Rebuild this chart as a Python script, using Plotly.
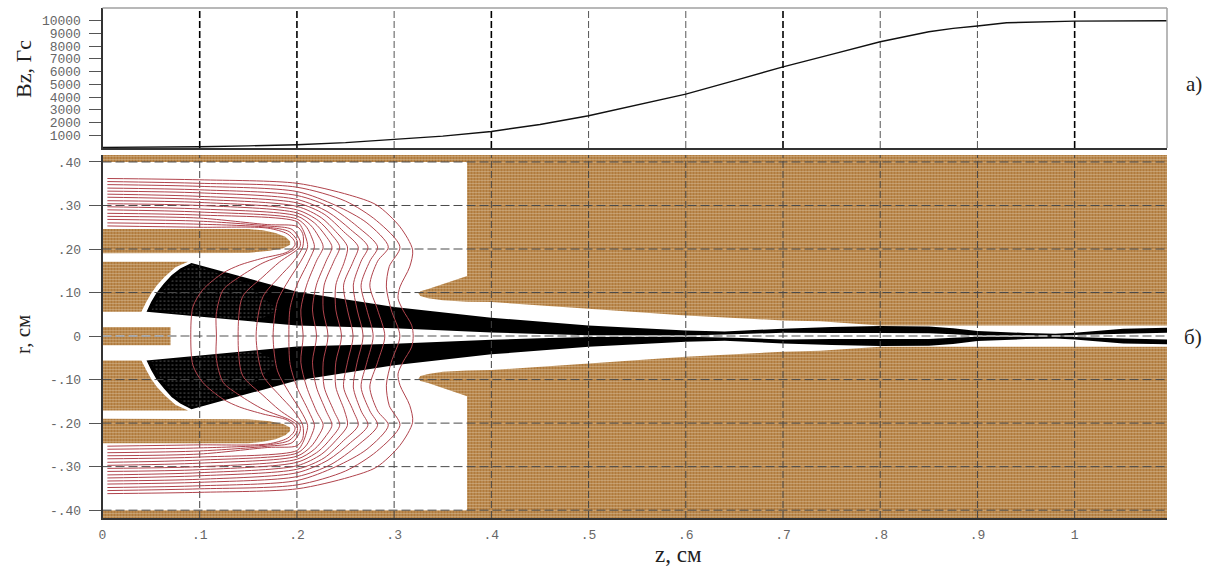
import numpy as np
import plotly.graph_objects as go

W, H = 1212, 566
# ---------- data ----------
bz_z = [0, .05, .1, .15, .2, .25, .3, .35, .4, .45, .5, .55, .6, .65, .7, .75, .8, .85, .875, .9, .93, 1.0, 1.095]
bz_v = [50, 60, 100, 170, 260, 420, 650, 930, 1300, 1850, 2530, 3390, 4230, 5300, 6370, 7360, 8350, 9130, 9400, 9580, 9840, 9970, 10000]

z_ticks = [0, .1, .2, .3, .4, .5, .6, .7, .8, .9, 1.0]
z_labels = ["0", ".1", ".2", ".3", ".4", ".5", ".6", ".7", ".8", ".9", "1"]
z_strong = [.1, .2, .4, .7, 1.0]
bz_ticks = [1000, 2000, 3000, 4000, 5000, 6000, 7000, 8000, 9000, 10000]
bz_labels = ["1000", "2000", "3000", "4000", "5000", "6000", "7000", "8000", "9000", "10000"]
r_ticks = [-.4, -.3, -.2, -.1, 0, .1, .2, .3, .4]
r_labels = ["-.40", "-.30", "-.20", "-.10", "0", ".10", ".20", ".30", ".40"]

body_z = [0, 1.095, 1.095, .8, .738, .7, .6, .5, .4, .375, .35, .335, .327, .325, .327, .335, .375, .375, 0]
body_r = [.418, .418, .0245, .0245, .034, .036, .0475, .063, .078, .079, .082, .087, .092, .098, .103, .108, .138, .40, .40]
plate_z = [0, .15, .165, .178, .188, .193, .193, .186, .172, .15, 0]
plate_r = [.246, .246, .243, .237, .228, .218, .21, .202, .196, .191, .19]
cath_z = [0, .088, .075, .064, .056, .05, .045, .04, 0]
cath_r = [.171, .171, .158, .136, .117, .098, .078, .056, .056]
rod_z = [0, .07, .07, 0]
rod_r = [.021, .021, 0, 0]

beam_outer_z = [.0453, .05, .0555, .063, .071, .08, .0915, .2, .3, .4, .5, .6, .64, .7, .75, .8, .85, .875, .9, .95, .98, 1.0, 1.05, 1.095]
beam_outer_r = [.056, .078, .099, .12, .14, .155, .168, .102, .067, .042, .0245, .013, .0107, .017, .0207, .023, .022, .018, .0115, .007, .0054, .0077, .017, .019]
beam_inner_z = [.0453, .2, .3, .4, .45, .5, .6, .65, .7, .75, .8, .85, .875, .9, .95, .98, 1.0, 1.05, 1.095]
beam_inner_r = [.056, .024, .0177, .0084, .005, .002, .0015, .004, .0077, .0069, .007, .0065, .004, .0015, .0015, 0, .0023, .0054, .0077]
speck_z = [.05, .06, .075, .0915, .15, .18, .16]
speck_r = [.058, .099, .138, .165, .12, .06, .035]

# equipotentials, innermost to outermost; upper half, ordered from the left end to the axis
red_z = [
 [.005, .1, .17, .19, .197, .198, .19, .165, .141, .124, .103, .093, .0908],
 [.005, .1, .17, .192, .2, .2, .193, .165, .141, .124, .117, .1172],
 [.005, .1, .17, .195, .203, .203, .182, .165, .144, .1395],
 [.005, .1, .17, .2, .206, .206, .196, .182, .165, .158],
 [.005, .1, .2, .206, .209, .211, .204, .192, .18, .1755],
 [.005, .1, .2, .21, .215, .218, .212, .2, .193, .1917],
 [.005, .1, .2, .214, .222, .227, .22, .21, .204, .2064],
 [.005, .1, .2, .218, .229, .236, .23, .22, .216, .2202],
 [.005, .1, .2, .222, .235, .244, .238, .228, .227, .232],
 [.005, .1, .2, .225, .24, .252, .249, .24, .24, .2459],
 [.005, .1, .2, .228, .248, .263, .258, .248, .252, .2578],
 [.005, .1, .2, .232, .255, .273, .266, .258, .262, .2681],
 [.005, .1, .2, .235, .262, .283, .275, .266, .272, .2784],
 [.005, .1, .2, .24, .272, .294, .283, .275, .283, .2904],
 [.005, .1, .2, .25, .282, .306, .295, .292, .297, .3059],
 [.005, .1, .2, .254, .282, .306, .319, .316, .306, .304, .309, .318, .3196],
]
red_r = [
 [.253, .25, .248, .235, .22, .209, .193, .179, .163, .145, .106, .067, 0],
 [.26, .257, .25, .24, .22, .205, .193, .168, .136, .106, .05, 0],
 [.268, .264, .253, .245, .22, .205, .17, .136, .09, 0],
 [.275, .271, .256, .252, .235, .205, .17, .136, .09, 0],
 [.282, .278, .263, .245, .228, .205, .172, .13, .08, 0],
 [.29, .285, .269, .25, .228, .205, .172, .117, .065, 0],
 [.297, .292, .276, .255, .23, .205, .172, .117, .06, 0],
 [.304, .3, .283, .26, .232, .205, .172, .117, .06, 0],
 [.311, .307, .29, .265, .235, .205, .172, .117, .06, 0],
 [.319, .314, .298, .272, .24, .205, .172, .117, .06, 0],
 [.326, .321, .306, .28, .24, .205, .172, .117, .06, 0],
 [.333, .329, .314, .285, .245, .205, .172, .117, .06, 0],
 [.34, .336, .323, .295, .252, .205, .172, .117, .06, 0],
 [.348, .344, .332, .30, .26, .205, .172, .117, .06, 0],
 [.355, .351, .342, .31, .265, .205, .16, .113, .06, 0],
 [.362, .359, .351, .324, .301, .251, .198, .159, .113, .087, .06, .025, 0],
]

brown_bg = "#b07a3c"
brown_fg = "#e4d0b4"
red = "#b0434c"

# ---------- layout helpers ----------
x0, x1 = 102.5 / W, 1167 / W
dom_top = [1 - 148 / H, 1 - 8 / H]
dom_bot = [1 - 518 / H, 1 - 155 / H]
z_range = [0, 1.095]

fig = go.Figure()
xy2 = dict(xaxis="x2", yaxis="y2", showlegend=False, hoverinfo="skip")


def brown(z, r):
    fig.add_trace(go.Scatter(x=z + [z[0]], y=r + [r[0]], mode="none", fill="toself",
                             fillpattern=dict(shape="+", size=3, solidity=.22, fgcolor=brown_fg,
                                              bgcolor=brown_bg, fillmode="replace"), **xy2))


for z, r in [(body_z, body_r), (plate_z, plate_r), (cath_z, cath_r)]:
    brown(z, r)
    brown(z, [-v for v in r])
brown(rod_z + rod_z[::-1], rod_r + [-v for v in rod_r[::-1]])

# beam
for s in (1, -1):
    bz = beam_outer_z + beam_inner_z[::-1]
    br = [s * v for v in beam_outer_r + beam_inner_r[::-1]]
    fig.add_trace(go.Scatter(x=bz, y=br, mode="none", fill="toself", fillcolor="#000000", **xy2))
    fig.add_trace(go.Scatter(x=speck_z + speck_z[:1], y=[s * v for v in speck_r + speck_r[:1]], mode="none",
                             fill="toself",
                             fillpattern=dict(shape=".", size=4, solidity=.06, fgcolor="#c0c0c0",
                                              bgcolor="#000000", fillmode="replace"), **xy2))

# grid, drawn above the fills
for r in r_ticks:
    zero = r == 0
    fig.add_trace(go.Scatter(x=z_range, y=[r, r], mode="lines",
                             line=dict(color="#a8a8a8" if zero else "#4a4a4a", width=2 if zero else 1,
                                       dash="9px,4px"), **xy2))
for z in z_ticks[1:]:
    fig.add_trace(go.Scatter(x=[z, z], y=[-.418, .416], mode="lines",
                             line=dict(color="#444444", width=1, dash="7px,3px"), **xy2))
    fig.add_trace(go.Scatter(x=[z, z], y=[0, 11000], mode="lines", showlegend=False, hoverinfo="skip",
                             line=dict(color="#000000" if z in z_strong else "#555555",
                                       width=1.6 if z in z_strong else 1, dash="7px,3px")))

# equipotentials
for z, r in zip(red_z, red_r):
    fig.add_trace(go.Scatter(x=z + z[-2::-1], y=r + [-v for v in r[-2::-1]], mode="lines",
                             line=dict(color=red, width=1, shape="spline", smoothing=.8), **xy2))

# Bz curve
fig.add_trace(go.Scatter(x=bz_z, y=bz_v, mode="lines", showlegend=False, hoverinfo="skip",
                         line=dict(color="#111111", width=1.4)))

tick_font = dict(family="Liberation Mono", size=13, color="#666666")
fig.update_layout(
    width=W, height=H, margin=dict(l=0, r=0, t=0, b=0, autoexpand=False), autosize=False,
    paper_bgcolor="white", plot_bgcolor="white", showlegend=False,
    xaxis=dict(domain=[x0, x1], range=z_range, showgrid=False, zeroline=False, showticklabels=False,
               ticks="", showline=True, linecolor="#333333", linewidth=2, anchor="y"),
    yaxis=dict(domain=dom_top, range=[0, 11000], showgrid=False, zeroline=False, tickvals=bz_ticks,
               ticktext=bz_labels,
               ticks="outside", ticklen=12, tickcolor="#555555", tickfont=tick_font, ticklabelstandoff=5,
               showline=True, linecolor="#333333", linewidth=2, anchor="x"),
    xaxis2=dict(domain=[x0, x1], range=z_range, showgrid=False, zeroline=False, tickvals=z_ticks,
                ticktext=z_labels, ticks="outside", ticklen=4, tickcolor="rgba(0,0,0,0)", tickfont=tick_font,
                showline=True, linecolor="#333333", linewidth=1.5, anchor="y2"),
    yaxis2=dict(domain=dom_bot, range=[-.418, .416], showgrid=False, zeroline=False, tickvals=r_ticks,
                ticktext=r_labels, ticks="outside", ticklen=12, tickcolor="#555555", tickfont=tick_font,
                ticklabelstandoff=5, showline=True, linecolor="#333333", linewidth=1.5, anchor="x2"),
    shapes=[
        dict(type="line", xref="x domain", yref="y domain", x0=0, x1=1, y0=1, y1=1,
             line=dict(color="#a0a0a0", width=1.5)),
        dict(type="line", xref="x domain", yref="y domain", x0=1, x1=1, y0=0, y1=1,
             line=dict(color="#a0a0a0", width=1.5)),
    ],
)


def label(text, px, py, size, angle=0):
    fig.add_annotation(text=text, xref="paper", yref="paper", x=px / W, y=1 - py / H, showarrow=False,
                       textangle=angle, xanchor="center", yanchor="middle",
                       font=dict(family="Liberation Serif", size=size, color="#222222"))


label("Bz, Гс", 24, 69, 22, -90)
label("r, см", 23, 335, 21, -90)
label("z, см", 678, 554, 23)
label("а)", 1194, 84, 21)
label("б)", 1193, 337, 21)

fig.write_html("out.html", config={"displayModeBar": False},
               post_script="document.body.style.margin='0';document.documentElement.style.overflow='hidden';")
